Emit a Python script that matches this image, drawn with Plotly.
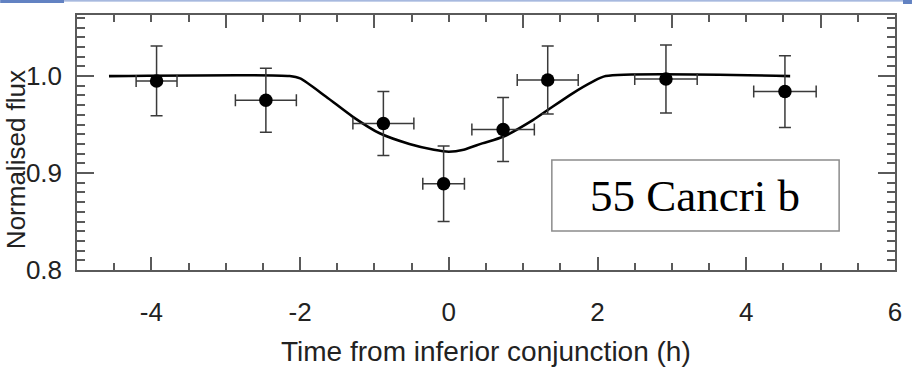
import plotly.graph_objects as go

# ---- data ----
time_h = [-3.93, -2.46, -0.88, -0.07, 0.73, 1.33, 2.92, 4.52]
flux = [0.995, 0.975, 0.951, 0.889, 0.945, 0.996, 0.997, 0.984]
flux_err = [0.036, 0.033, 0.033, 0.039, 0.033, 0.035, 0.035, 0.037]
time_err = [0.275, 0.41, 0.41, 0.28, 0.42, 0.41, 0.42, 0.42]

model_x = [-4.57, -2.14, -2.0, -1.65, -1.29, -0.93, -0.53, -0.2, 0.0, 0.2,
           0.45, 0.73, 1.13, 1.33, 1.66, 1.93, 2.11, 4.59]
model_y = [1.0, 1.0, 0.9976, 0.9787, 0.958, 0.941, 0.930, 0.924, 0.922, 0.924,
           0.9306, 0.9374, 0.9546, 0.965, 0.982, 0.994, 1.0, 1.0]

x_ticks_bottom = [-4, -2, 0, 2, 4, 6]
x_ticks_top = [-5, -3, -1, 1, 3, 5]
y_ticks = [0.8, 0.9, 1.0]
y_ticktext = ["0.8", "0.9", "1.0"]

label_text = "55 Cancri b"
x_title = "Time from inferior conjunction (h)"
y_title = "Normalised flux"

# ---- geometry (pixels) ----
W, H = 914, 372
L, R, T, B = 77, 17, 15, 102
PW, PH = W - L - R, H - T - B


def px(xp):
    return (xp - L) / PW


def py(yp):
    return (H - B - yp) / PH


SANS = "Liberation Sans, Arial, Helvetica, sans-serif"
FRAME = "#5a5a5a"

fig = go.Figure()

fig.add_trace(go.Scatter(
    x=model_x, y=model_y, mode="lines",
    line=dict(color="black", width=2.6, shape="spline", smoothing=0.7),
    hoverinfo="skip", showlegend=False))

fig.add_trace(go.Scatter(
    x=time_h, y=flux, mode="markers",
    marker=dict(color="black", size=13.5),
    error_y=dict(type="data", array=flux_err, visible=True,
                 color="#3a3a3a", thickness=1.5, width=6),
    error_x=dict(type="data", array=time_err, visible=True,
                 color="#3a3a3a", thickness=1.5, width=6),
    showlegend=False))

# invisible trace to activate the top axis
fig.add_trace(go.Scatter(
    x=model_x, y=model_y, xaxis="x2", mode="lines",
    line=dict(color="rgba(0,0,0,0)"), hoverinfo="skip", showlegend=False))

fig.update_layout(
    width=W, height=H,
    margin=dict(l=L, r=R, t=T, b=B, pad=0),
    paper_bgcolor="white", plot_bgcolor="white",
    font=dict(family=SANS, color="#222"),
    xaxis=dict(
        range=[-5, 6], tickvals=x_ticks_bottom,
        ticktext=[str(v) for v in x_ticks_bottom],
        ticks="inside", ticklen=13, tickwidth=1.5, tickcolor=FRAME,
        showline=True, linecolor=FRAME, linewidth=1.5, mirror=False,
        showgrid=False, zeroline=False,
        tickfont=dict(size=26, family=SANS, color="#222"),
        ticklabelstandoff=18,
        minor=dict(dtick=0.5, tick0=0, ticks="inside", ticklen=7,
                   tickwidth=1.5, tickcolor=FRAME, showgrid=False),
    ),
    xaxis2=dict(
        range=[-5, 6], overlaying="x", side="top", anchor="y",
        tickvals=x_ticks_top, showticklabels=False,
        ticks="inside", ticklen=13, tickwidth=1.5, tickcolor=FRAME,
        showline=True, linecolor=FRAME, linewidth=1.5,
        showgrid=False, zeroline=False,
        minor=dict(dtick=0.5, tick0=0, ticks="inside", ticklen=7,
                   tickwidth=1.5, tickcolor=FRAME, showgrid=False),
    ),
    yaxis=dict(
        range=[0.8, 1.063], tickvals=y_ticks, ticktext=y_ticktext,
        ticks="inside", ticklen=17, tickwidth=1.5, tickcolor=FRAME,
        showline=True, linecolor=FRAME, linewidth=1.5, mirror="ticks",
        showgrid=False, zeroline=False,
        tickfont=dict(size=26, family=SANS, color="#222"),
        ticklabelstandoff=8,
        minor=dict(dtick=0.01, tick0=0.8, ticks="inside", ticklen=8,
                   tickwidth=1.5, tickcolor=FRAME, showgrid=False),
    ),
)

# label box
fig.add_shape(type="rect", xref="paper", yref="paper",
              x0=px(553), x1=px(841), y0=py(231), y1=py(160),
              line=dict(color="#8c8c8c", width=1.5), fillcolor="white",
              layer="above")
fig.add_annotation(text=label_text, xref="paper", yref="paper",
                   x=px(697), y=py(196), xanchor="center", yanchor="middle",
                   showarrow=False,
                   font=dict(family="Liberation Serif, Times New Roman, serif",
                             size=45, color="black"))

# axis titles
fig.add_annotation(text=x_title, xref="paper", yref="paper",
                   x=px(487.5), y=py(351), xanchor="center", yanchor="middle",
                   showarrow=False, font=dict(family=SANS, size=28, color="#222"))
fig.add_annotation(text=y_title, xref="paper", yref="paper", textangle=-90,
                   x=px(16), y=py(160), xanchor="center", yanchor="middle",
                   showarrow=False, font=dict(family=SANS, size=26, color="#222"))

# slide decoration at the top edge (filled rects, no outlines)
fig.add_shape(type="rect", xref="paper", yref="paper",
              x0=px(0), x1=px(64), y0=py(3), y1=py(0),
              line=dict(width=0, color="rgba(0,0,0,0)"), fillcolor="#6282c2",
              layer="above")
fig.add_shape(type="rect", xref="paper", yref="paper",
              x0=px(64), x1=px(914), y0=py(1.6), y1=py(0.2),
              line=dict(width=0, color="rgba(0,0,0,0)"), fillcolor="#8aa2d4",
              layer="above")
fig.add_shape(type="rect", xref="paper", yref="paper",
              x0=px(905), x1=px(914), y0=py(4), y1=py(0),
              line=dict(width=0, color="rgba(0,0,0,0)"), fillcolor="#6282c2",
              layer="above")

fig.write_html("out.html")
